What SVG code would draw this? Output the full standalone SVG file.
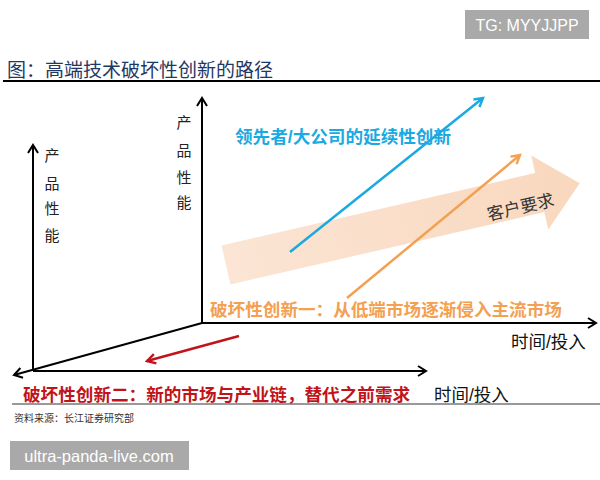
<svg xmlns="http://www.w3.org/2000/svg" width="600" height="480" viewBox="0 0 600 480">
<defs>
<style>
.cjk{font-family:"Liberation Sans","Noto Sans CJK SC",sans-serif}
.ax{stroke:#000;stroke-width:2;fill:none}
.lbl{font-size:15px;fill:#222;text-anchor:middle}
.bold{font-weight:bold;font-size:17.6px}
.time{font-size:17.5px;fill:#111}
</style>
<marker id="open" viewBox="0 0 12 12" refX="10" refY="6" markerWidth="12" markerHeight="12" markerUnits="userSpaceOnUse" orient="auto">
<path d="M2,1 L10,6 L2,11" fill="none" stroke="#000" stroke-width="2"/>
</marker>
<marker id="blue" viewBox="0 0 10 10" refX="8" refY="5" markerWidth="12" markerHeight="12" markerUnits="userSpaceOnUse" orient="auto">
<path d="M1,1 L8,5 L1,9" fill="none" stroke="#1ba9e1" stroke-width="2"/>
</marker>
<marker id="orange" viewBox="0 0 10 10" refX="8" refY="5" markerWidth="12" markerHeight="12" markerUnits="userSpaceOnUse" orient="auto">
<path d="M1,1 L8,5 L1,9" fill="none" stroke="#f3a052" stroke-width="2"/>
</marker>
<marker id="red" viewBox="0 0 10 10" refX="8" refY="5" markerWidth="12" markerHeight="12" markerUnits="userSpaceOnUse" orient="auto">
<path d="M1,1 L8,5 L1,9" fill="none" stroke="#c0141a" stroke-width="2"/>
</marker>
<linearGradient id="peach" x1="0" y1="0" x2="1" y2="0">
<stop offset="0" stop-color="#fbe2d0"/>
<stop offset="1" stop-color="#f8d3b6"/>
</linearGradient>
</defs>
<rect width="600" height="480" fill="#fff"/>

<g id="watermark-top">
<rect x="465" y="10" width="124" height="29" fill="#a9a9a9"/>
<text x="527" y="31" class="cjk" font-size="16" fill="#fff" text-anchor="middle">TG: MYYJJPP</text>
</g>

<g id="title">
<text x="7" y="77" class="cjk" font-size="19" fill="#1f3864">图：高端技术破坏性创新的路径</text>
<line x1="3" y1="81" x2="600" y2="81" stroke="#000" stroke-width="1.8"/>
</g>

<g id="customer-demand">
<g transform="translate(226,265) rotate(-13)">
<path d="M0,-20 L322,-20 L322,-38 L363,0 L322,38 L322,20 L0,20 Z" fill="url(#peach)" opacity="0.9"/>
<text x="300" y="16" class="cjk" font-size="17" fill="#333" text-anchor="middle">客户要求</text>
</g>
</g>

<g id="connectors">
<line class="ax" x1="33" y1="371" x2="33" y2="145" marker-end="url(#open)"/>
<line class="ax" x1="202" y1="323" x2="202" y2="98" marker-end="url(#open)"/>
<line class="ax" x1="202" y1="323" x2="596" y2="323" marker-end="url(#open)"/>
<line class="ax" x1="202" y1="323" x2="14" y2="375" marker-end="url(#open)"/>
<line class="ax" x1="33" y1="371" x2="426" y2="371" marker-end="url(#open)"/>
<line x1="290" y1="252" x2="483" y2="98" stroke="#1ba9e1" stroke-width="2.5" marker-end="url(#blue)"/>
<line x1="347" y1="298" x2="520" y2="155" stroke="#f3a052" stroke-width="2.5" marker-end="url(#orange)"/>
<line x1="239" y1="336" x2="147" y2="361" stroke="#c0141a" stroke-width="2.5" marker-end="url(#red)"/>
</g>

<g id="axis-left-label" class="cjk">
<text x="52" y="161" class="lbl">产</text>
<text x="52" y="189" class="lbl">品</text>
<text x="52" y="214" class="lbl">性</text>
<text x="52" y="241" class="lbl">能</text>
</g>
<g id="axis-mid-label" class="cjk">
<text x="184" y="128" class="lbl">产</text>
<text x="184" y="156" class="lbl">品</text>
<text x="184" y="183" class="lbl">性</text>
<text x="184" y="208" class="lbl">能</text>
</g>

<g id="sustaining">
<text x="235" y="143" class="cjk bold" fill="#1ba9e1">领先者/大公司的延续性创新</text>
</g>
<g id="disruptive-1">
<text x="210" y="316" class="cjk bold" fill="#f3a052">破坏性创新一：从低端市场逐渐侵入主流市场</text>
</g>
<g id="time-upper">
<text x="511" y="348" class="cjk time">时间/投入</text>
</g>
<g id="disruptive-2">
<text x="23" y="401" class="cjk bold" fill="#c0141a">破坏性创新二：新的市场与产业链，替代之前需求</text>
</g>
<g id="time-lower">
<text x="434" y="401" class="cjk time">时间/投入</text>
</g>

<g id="source">
<line x1="12" y1="404" x2="600" y2="404" stroke="#333" stroke-width="1"/>
<text x="14" y="422" class="cjk" font-size="10" fill="#333">资料来源：长江证券研究部</text>
</g>

<g id="watermark-bottom">
<rect x="10" y="441" width="179" height="29" fill="#a9a9a9"/>
<text x="99" y="462" class="cjk" font-size="16.5" fill="#fff" text-anchor="middle">ultra-panda-live.com</text>
</g>
</svg>
